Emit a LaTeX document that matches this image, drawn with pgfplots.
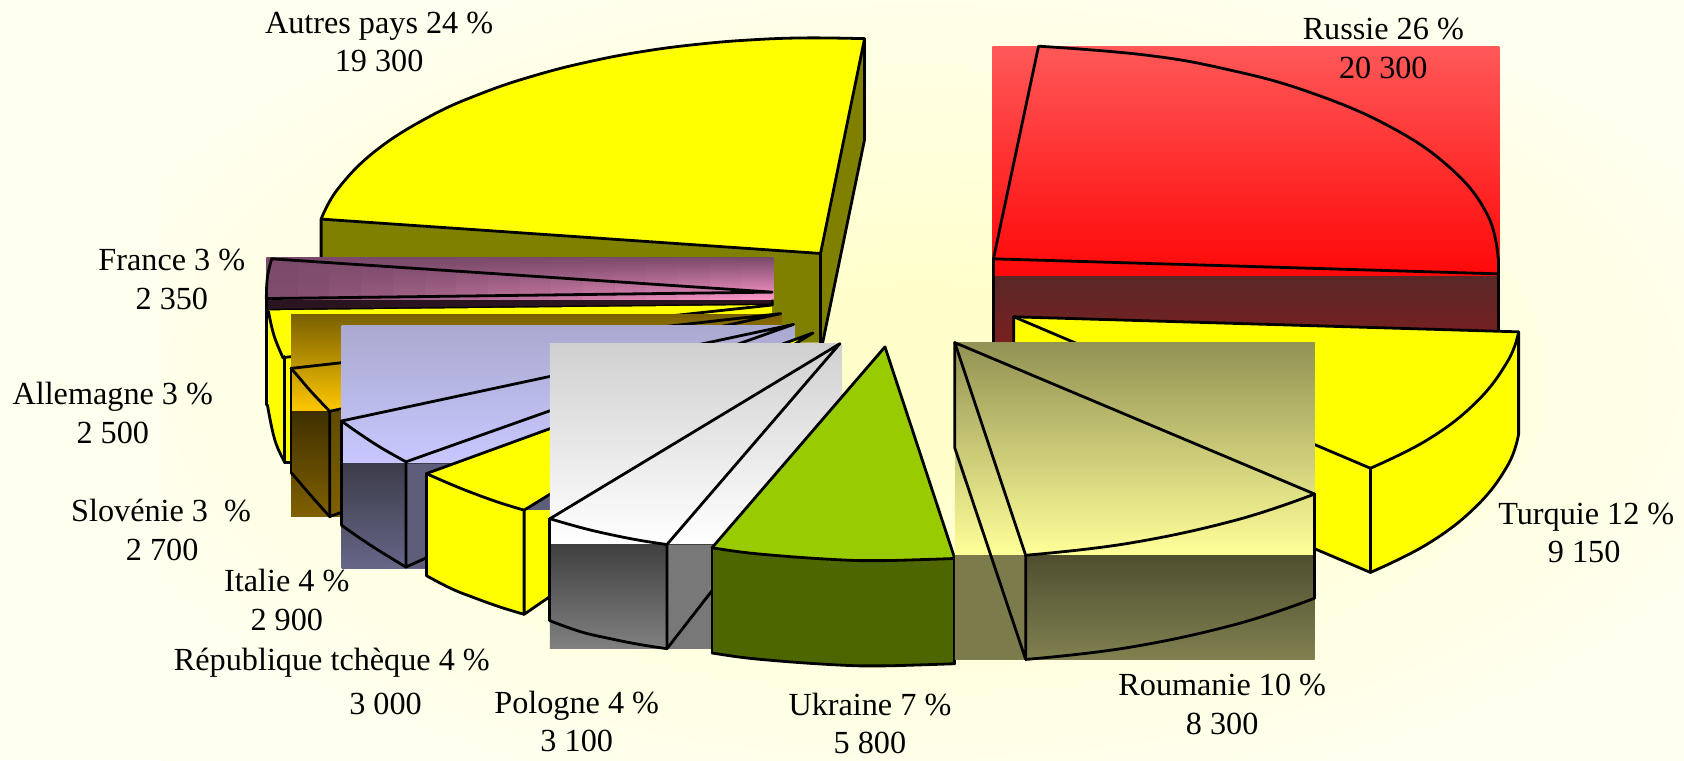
\documentclass[border=0pt]{standalone}
\usepackage{pgfplots}
\pgfplotsset{compat=1.18}
\usepackage{fontspec}
\setmainfont{Liberation Serif}
\definecolor{bgin}{HTML}{FFFFCC}
\definecolor{bgout}{HTML}{FFFFF0}
\definecolor{olv}{HTML}{808000}
\definecolor{yel}{HTML}{FFFF00}
\definecolor{duskc}{HTML}{7B4A6A}
\definecolor{pinkc}{HTML}{FF99CC}
\definecolor{darkb}{HTML}{2A1420}
\pgfdeclareradialshading{bgshade}{\pgfpointorigin}{color(0bp)=(bgin); color(6bp)=(bgin); color(29bp)=(bgout); color(50bp)=(bgout)}
\newcommand{\Rect}[6]{\addplot[draw=none,top color=#5,bottom color=#6] coordinates {(#1,#2)(#3,#2)(#3,#4)(#1,#4)} -- cycle;}
\newcommand{\Flat}[5]{\addplot[draw=none,fill=#5] coordinates {(#1,#2)(#3,#2)(#3,#4)(#1,#4)} -- cycle;}
\newcommand{\lab}[3]{\node[font=\fontsize{30}{34}\selectfont,inner sep=0pt,anchor=base] at (axis cs:#1,#2) {#3};}
\tikzset{ln/.style={draw=black,line width=2.6pt,line join=round,line cap=round}, arc/.style={ln,smooth,tension=0.7}}
\begin{document}
\begin{tikzpicture}
\begin{axis}[hide axis,scale only axis,width=1568pt,height=708pt,xmin=0,xmax=1568,ymin=0,ymax=708,y dir=reverse,clip=true]
% background
\Flat{0}{0}{1568}{708}{bgout}
\addplot[draw=none,shading=bgshade] coordinates {(150,0)(1568,0)(1568,708)(150,708)} -- cycle;
% Autres pays
\addplot[draw=none,fill=olv] coordinates {(299,204)(764,236)(805,36)(805,130)(766,319)(299,319)} -- cycle;
\addplot[draw=none,fill=yel] coordinates {(299,204)(305,191)(315,175.4)(330,158)(350,140.2)(375,122.8)(400,108.5)(450,86.3)(500,69.7)(550,57.1)(600,47.7)(650,41.2)(700,37.1)(750,35.3)(805,36)(764,236)} -- cycle;
\addplot[arc] coordinates {(299,204)(315,175.4)(350,140.2)(400,108.5)(450,86.3)(500,69.7)(550,57.1)(600,47.7)(650,41.2)(700,37.1)(750,35.3)(805,36)};
\addplot[ln] coordinates {(299,240)(299,204)(764,236)(805,36)(805,130)(766,319)};
\addplot[ln] coordinates {(764,236)(764,319)};
% France
\addplot[draw=none,fill=darkb] coordinates {(248,278)(719,272)(719,284)(248,289)} -- cycle;
\Rect{248}{240}{278.5}{279}{duskc}{pinkc!3!duskc}
\Rect{277.5}{240}{308}{279}{duskc}{pinkc!9!duskc}
\Rect{307}{240}{337.5}{279}{duskc}{pinkc!16!duskc}
\Rect{336.5}{240}{367}{279}{duskc}{pinkc!22!duskc}
\Rect{366}{240}{396.5}{279}{duskc}{pinkc!28!duskc}
\Rect{395.5}{240}{426}{279}{duskc}{pinkc!34!duskc}
\Rect{425}{240}{455.5}{279}{duskc}{pinkc!41!duskc}
\Rect{454.5}{240}{485}{279}{duskc}{pinkc!47!duskc}
\Rect{484}{240}{514.5}{279}{duskc}{pinkc!53!duskc}
\Rect{513.5}{240}{544}{279}{duskc}{pinkc!59!duskc}
\Rect{543}{240}{573.5}{279}{duskc}{pinkc!66!duskc}
\Rect{572.5}{240}{603}{279}{duskc}{pinkc!72!duskc}
\Rect{602}{240}{632.5}{279}{duskc}{pinkc!78!duskc}
\Rect{631.5}{240}{662}{279}{duskc}{pinkc!84!duskc}
\Rect{661}{240}{691.5}{279}{duskc}{pinkc!91!duskc}
\Rect{690.5}{240}{720}{279}{duskc}{pinkc!97!duskc}
\addplot[ln] coordinates {(253,241)(719,272)(248,278)};
\addplot[arc] coordinates {(253,241)(249,258)(248,278)};
\addplot[ln] coordinates {(248,278)(248,377)};
\addplot[ln] coordinates {(248,289)(719,284)(719,280)};
% Allemagne
\addplot[draw=none,fill=yel] coordinates {(250,289)(719,284)(719,340)(271,340)(271,431)(265.5,431)(256,410)(250,377)} -- cycle;
\addplot[arc] coordinates {(250,290)(255,312)(263,332)};
\addplot[arc] coordinates {(249,377)(256,410)(265.5,431)};
\addplot[ln] coordinates {(265,332)(265,431)(275,431)};
\addplot[ln] coordinates {(263,333)(719,284)};
% Slovenie
\Rect{271}{293}{728}{383}{{rgb,255:red,122;green,96;blue,0}}{{rgb,255:red,255;green,200;blue,0}}
\Rect{271}{383}{728}{481}{{rgb,255:red,64;green,48;blue,0}}{{rgb,255:red,128;green,96;blue,0}}
\Rect{307}{383}{728}{481}{{rgb,255:red,96;green,76;blue,0}}{{rgb,255:red,128;green,96;blue,0}}
\addplot[ln] coordinates {(271,343)(727,292)(307,383)};
\addplot[arc] coordinates {(271,343)(278,351)(290,365)(307,383)};
\addplot[arc] coordinates {(271,440)(278,448)(290,462)(307,481)};
\addplot[ln] coordinates {(271,343)(271,440)};
\addplot[ln] coordinates {(307,383)(307,481)(318,477)};
% Italie
\Rect{318}{303}{740}{432}{{rgb,255:red,169;green,169;blue,208}}{{rgb,255:red,200;green,200;blue,255}}
\Rect{318}{432}{740}{529}{{rgb,255:red,60;green,60;blue,74}}{{rgb,255:red,102;green,102;blue,136}}
\Flat{378}{432}{740}{529}{{rgb,255:red,94;green,94;blue,122}}
\addplot[ln] coordinates {(318,392)(739,302)(378,430)};
\addplot[arc] coordinates {(318,392)(335,404)(355,417)(378,430)};
\addplot[arc] coordinates {(318,489)(335,501)(355,514)(378,528)};
\addplot[ln] coordinates {(318,392)(318,489)};
\addplot[ln] coordinates {(378,430)(378,528)(400,518)};
% Republique tcheque
\addplot[draw=none,fill=yel] coordinates {(397,441)(420,451)(440,459)(465,468)(488,475)(757,310)} -- cycle;
\addplot[draw=none,fill=yel] coordinates {(397,441)(420,451)(440,459)(465,468)(488,475)(520,475)(520,550)(488,572)(465,565)(440,556)(420,548)(397,536)} -- cycle;
\addplot[arc] coordinates {(397,441)(420,451)(440,459)(465,468)(488,475)};
\addplot[arc] coordinates {(397,536)(420,548)(440,556)(465,565)(488,572)};
\addplot[ln] coordinates {(397,441)(757,310)(488,475)};
\addplot[ln] coordinates {(397,441)(397,536)};
\addplot[ln] coordinates {(488,475)(488,572)(520,550)};
% Pologne
\Rect{512}{320}{784}{507}{{rgb,255:red,208;green,208;blue,208}}{white}
\Rect{512}{507}{784}{604}{{rgb,255:red,64;green,64;blue,64}}{{rgb,255:red,128;green,128;blue,128}}
\Flat{621}{507}{784}{604}{{rgb,255:red,120;green,120;blue,120}}
\addplot[ln] coordinates {(512,483)(782,320)(621,507)};
\addplot[arc] coordinates {(512,483)(540,491)(565,497)(595,503)(621,507)};
\addplot[arc] coordinates {(512,578)(540,588)(565,594)(595,600)(621,604)};
\addplot[ln] coordinates {(512,483)(512,578)};
\addplot[ln] coordinates {(621,507)(621,604)(670,541)};
% Ukraine
\addplot[draw=none,fill={rgb,255:red,153;green,204;blue,0}] coordinates {(824,323)(889,520)(860,521)(824,522)(800,522)(760,520)(720,517)(690,514)(663,510)} -- cycle;
\addplot[draw=none,fill={rgb,255:red,77;green,102;blue,0}] coordinates {(663,510)(690,514)(720,517)(760,520)(800,522)(824,522)(860,521)(889,520)(889,618)(860,619)(824,620)(800,620)(760,618)(720,615)(690,612)(663,608)} -- cycle;
\addplot[ln] coordinates {(663,510)(824,323)(889,520)};
\addplot[arc] coordinates {(663,510)(690,514)(720,517)(760,520)(800,522)(824,522)(860,521)(889,520)};
\addplot[arc] coordinates {(663,608)(690,612)(720,615)(760,618)(800,620)(824,620)(860,619)(889,618)};
\addplot[ln] coordinates {(663,510)(663,608)};
\addplot[ln] coordinates {(889,520)(889,618)};
% Russie
\addplot[draw=none,top color={rgb,255:red,255;green,88;blue,88},middle color={rgb,255:red,255;green,60;blue,60},bottom color={rgb,255:red,255;green,8;blue,8}] coordinates {(924,43)(1396,43)(1396,257)(924,257)} -- cycle;
\Rect{924}{257}{1396}{352}{{rgb,255:red,90;green,40;blue,40}}{{rgb,255:red,139;green,26;blue,26}}
\addplot[ln] coordinates {(967,43)(925,241)(1395,255)};
\addplot[arc] coordinates {(967,43)(1066,51.2)(1142,64.5)(1218,85.4)(1294,117.8)(1351,157)(1385,200)(1395,241)};
\addplot[ln] coordinates {(1395,241)(1395,255)};
\addplot[ln] coordinates {(925,241)(925,340)};
\addplot[ln] coordinates {(1395,255)(1395,340)};
% Turquie
\addplot[draw=none,fill=yel] coordinates {(944,295)(1414,309)(1411,318)(1404,336)(1392,355)(1375,374)(1355,392)(1330,409)(1300,425)(1276,436)} -- cycle;
\addplot[draw=none,fill=yel] coordinates {(944,295)(1276,436)(1300,425)(1330,409)(1355,392)(1375,374)(1392,355)(1404,336)(1411,318)(1414,309)(1414,404)(1411,415)(1404,433)(1392,452)(1375,471)(1355,489)(1330,506)(1300,522)(1276,533)(944,392)} -- cycle;
\addplot[ln] coordinates {(944,392)(944,295)(1414,309)(1414,404)};
\addplot[ln] coordinates {(944,295)(1276,436)(1276,533)(944,392)};
\addplot[arc] coordinates {(1414,309)(1404,336)(1375,374)(1330,409)(1276,436)};
\addplot[arc] coordinates {(1414,404)(1404,433)(1375,471)(1330,506)(1276,533)};
% Roumanie
\Rect{889}{319}{1224}{517}{{rgb,255:red,146;green,146;blue,84}}{{rgb,255:red,255;green,255;blue,153}}
\Rect{889}{517}{1224}{614}{{rgb,255:red,79;green,79;blue,48}}{{rgb,255:red,128;green,128;blue,80}}
\Flat{889}{517}{955}{614}{{rgb,255:red,123;green,123;blue,75}}
\addplot[ln] coordinates {(1224,460)(889,319)(955,517)};
\addplot[arc] coordinates {(1224,460)(1150,484.5)(1050,506)(955,517)};
\addplot[arc] coordinates {(1224,557)(1150,581.5)(1050,603)(955,614)};
\addplot[ln] coordinates {(889,319)(889,417)(955,614)(955,517)};
\addplot[ln] coordinates {(1224,460)(1224,557)};
% Labels
\lab{353}{31}{Autres pays 24 \%}
\lab{353}{67}{19 300}
\lab{1288}{37}{Russie 26 \%}
\lab{1288}{73}{20 300}
\lab{1477}{488}{Turquie 12 \%}
\lab{1475}{524}{9 150}
\lab{1138}{648}{Roumanie 10 \%}
\lab{1138}{684}{8 300}
\lab{810}{666}{Ukraine 7 \%}
\lab{810}{702}{5 800}
\lab{537}{664}{Pologne 4 \%}
\lab{537}{700}{3 100}
\lab{309}{624}{République tchèque 4 \%}
\lab{359}{665}{3 000}
\lab{267}{551}{Italie 4 \%}
\lab{267}{587}{2 900}
\lab{150}{486}{Slovénie 3~~\%}
\lab{151}{522}{2 700}
\lab{105}{377}{Allemagne 3 \%}
\lab{105}{413}{2 500}
\lab{160}{252}{France 3 \%}
\lab{160}{288}{2 350}
\end{axis}
\end{tikzpicture}
\end{document}
